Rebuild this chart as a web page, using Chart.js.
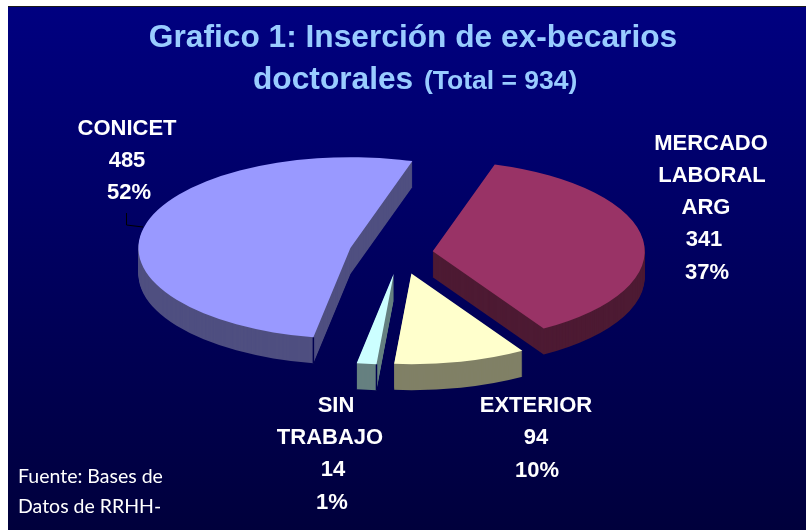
<!DOCTYPE html>
<html>
<head>
<meta charset="utf-8">
<title>Grafico 1</title>
<style>
  html, body { margin: 0; padding: 0; background: #fff; }
  canvas { display: block; }
</style>
<script src="https://cdn.jsdelivr.net/npm/chart.js@4"></script>
</head>
<body>
<canvas id="pieChart" width="806" height="530"></canvas>
<script>
// --- Data ---
const categories = ['MERCADO LABORAL ARG', 'EXTERIOR', 'SIN TRABAJO', 'CONICET'];
const values = [341, 94, 14, 485];
const percents = ['37%', '10%', '1%', '52%'];
const topColors = ['#993366', '#ffffcc', '#ccffff', '#9999ff'];
const wallColors = ['#4d1a33', '#808066', '#668080', '#4f4f80'];

// how far each slice is pulled out from the middle
const explode = [33, 49, 49, 51];
const squash = 0.428;  // flatten the pie into an ellipse
const depth = 26;      // height of the 3D wall in px

// one entry per text line: x centre, baseline y
const labelLines = [
    [['MERCADO', 711, 150], ['LABORAL', 712, 182], ['ARG', 706, 214], [values[0], 704, 246], [percents[0], 707, 279]],
    [['EXTERIOR', 536, 412], [values[1], 536, 444], [percents[1], 537, 477]],
    [['SIN', 336, 412], ['TRABAJO', 330, 444], [values[2], 333, 476], [percents[2], 332, 509]],
    [['CONICET', 127, 135], [values[3], 127, 167], [percents[3], 129, 199]]
];

// --- Puts the flat pie on its side and stacks darker copies below it ---
const pie3d = {
    id: 'pie3d',
    beforeDraw(chart) {
        const ctx = chart.ctx;
        ctx.save();
        ctx.fillStyle = '#ffffff';
        ctx.fillRect(0, 0, chart.width, chart.height);
        const bg = ctx.createLinearGradient(0, 6, 0, 530);
        bg.addColorStop(0, '#000080');
        bg.addColorStop(1, '#00003c');
        ctx.fillStyle = bg;
        ctx.fillRect(8, 6, chart.width - 8, chart.height - 6);
        ctx.fillStyle = '#1a1a1a';
        ctx.fillRect(8, 6, chart.width - 8, 1);
        ctx.restore();
    },
    beforeDatasetDraw(chart, args) {
        const ctx = chart.ctx;
        const arcs = args.meta.data;

        function place(arc, i, down) {
            const mid = (arc.startAngle + arc.endAngle) / 2;
            ctx.translate(Math.cos(mid) * explode[i], Math.sin(mid) * explode[i] * squash + down);
            ctx.translate(0, arc.y);
            ctx.scale(1, squash);
            ctx.translate(0, -arc.y);
        }

        arcs.forEach((arc, i) => {
            const topOptions = arc.options;
            // wall first, bottom layer up
            arc.options = Object.create(topOptions, { backgroundColor: { value: wallColors[i] } });
            for (let d = depth; d > 0; d--) {
                ctx.save();
                place(arc, i, d);
                arc.draw(ctx);
                ctx.restore();
            }
            arc.options = topOptions;

            // dark edge where a cut face meets the front of the wall
            const start = arc.startAngle;
            if (Math.sin(start) > 0 && Math.cos(start) < 0) {
                const mid = (arc.startAngle + arc.endAngle) / 2;
                const x = arc.x + Math.cos(mid) * explode[i] + Math.cos(start) * arc.outerRadius;
                const y = arc.y + (Math.sin(mid) * explode[i] + Math.sin(start) * arc.outerRadius) * squash;
                ctx.save();
                ctx.strokeStyle = '#000050';
                ctx.lineWidth = 1.5;
                ctx.beginPath();
                ctx.moveTo(x, y);
                ctx.lineTo(x, y + depth);
                ctx.stroke();
                ctx.restore();
            }

            ctx.save();
            place(arc, i, 0);
            arc.draw(ctx);
            ctx.restore();
        });
        return false;
    },
    afterDraw(chart) {
        const ctx = chart.ctx;
        ctx.save();

        // title, second line mixes two sizes
        ctx.textBaseline = 'alphabetic';
        ctx.fillStyle = '#99ccff';
        ctx.textAlign = 'center';
        ctx.font = 'bold 31.7px "Liberation Sans", Arial, sans-serif';
        ctx.fillText('Grafico 1: Inserción de ex-becarios', 413, 47);
        ctx.textAlign = 'left';
        ctx.fillText('doctorales', 253, 89);
        ctx.font = 'bold 26.5px "Liberation Sans", Arial, sans-serif';
        ctx.fillText('(Total = 934)', 424, 89);

        // slice labels
        ctx.fillStyle = '#ffffff';
        ctx.textAlign = 'center';
        ctx.font = 'bold 22px "Liberation Sans", Arial, sans-serif';
        labelLines.forEach(lines => {
            lines.forEach(l => ctx.fillText(String(l[0]), l[1], l[2]));
        });

        // source note
        ctx.textAlign = 'left';
        ctx.font = '19.5px Lato, "Open Sans", sans-serif';
        ctx.fillText('Fuente: Bases de', 18, 483);
        ctx.fillText('Datos de RRHH-', 18, 513);

        // small leader mark near CONICET
        ctx.strokeStyle = '#000000';
        ctx.lineWidth = 1;
        ctx.beginPath();
        ctx.moveTo(126.5, 213);
        ctx.lineTo(126.5, 225);
        ctx.lineTo(143, 227);
        ctx.stroke();
        ctx.restore();
    }
};

new Chart(document.getElementById('pieChart'), {
    type: 'pie',
    data: {
        labels: categories,
        datasets: [{
            data: values,
            backgroundColor: topColors,
            borderWidth: 0,
            clip: false
        }]
    },
    options: {
        responsive: false,
        animation: false,
        rotation: 17,
        radius: 212,
        layout: { padding: { right: 6, bottom: 24 } },
        plugins: {
            legend: { display: false },
            tooltip: { enabled: false }
        }
    },
    plugins: [pie3d]
});
</script>
</body>
</html>
